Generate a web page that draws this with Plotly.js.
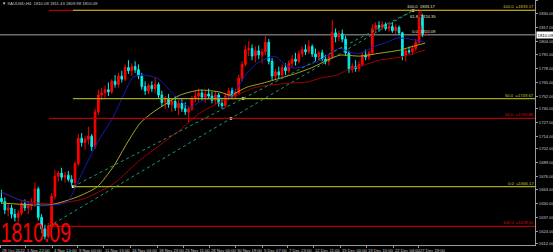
<!DOCTYPE html>
<html><head><meta charset="utf-8">
<script src="https://cdn.plot.ly/plotly-3.0.1.min.js"></script>
<style>html,body{margin:0;padding:0;background:#000;}#chart{width:553px;height:252px;}</style>
</head><body><div id="chart"></div>
<script>
// ---- XAUUSD H4 candles ----
const opens = [1655,1652,1644,1646,1640,1637,1641,1650,1646,1648,
 1650,1664,1637,1626,1619,1629,1657,1676,1679,1675,
 1677,1673,1670,1688,1712,1708,1711,1714,1704,1737,
 1753,1755,1758,1756,1766,1763,1771,1768,1779,1776,
 1780,1777,1771,1761,1757,1762,1759,1763,1753,1746,
 1749,1744,1747,1741,1745,1740,1737,1740,1750,1752,
 1755,1751,1754,1752,1748,1753,1745,1743,1752,1757,
 1752,1755,1769,1782,1796,1797,1790,1795,1791,1794,
 1803,1785,1771,1775,1772,1779,1776,1783,1787,1785,
 1792,1796,1794,1799,1792,1789,1793,1787,1785,1789,
 1812,1808,1811,1806,1793,1777,1780,1778,1782,1791,
 1789,1793,1816,1819,1817,1820,1816,1818,1814,1817,
 1812,1790,1795,1794,1797,1803,1826,1810.08];
const highs = [1663,1656,1650,1649,1645,1644,1652,1654,1652,1655,
 1670,1666,1640,1630,1632,1660,1682,1681,1684,1680,
 1681,1677,1690,1716,1717,1714,1723,1716,1740,1758,
 1760,1762,1765,1768,1772,1774,1776,1782,1786,1783,
 1785,1782,1774,1766,1764,1766,1769,1765,1757,1752,
 1754,1750,1752,1748,1749,1746,1742,1752,1757,1759,
 1758,1757,1759,1756,1756,1755,1749,1755,1760,1760,
 1759,1772,1785,1800,1804,1801,1799,1800,1797,1809,
 1806,1788,1778,1780,1782,1783,1786,1791,1793,1795,
 1799,1801,1805,1801,1797,1795,1796,1791,1792,1824,
 1816,1814,1815,1809,1795,1783,1786,1785,1794,1796,
 1795,1820,1822,1823,1823,1822,1821,1822,1820,1819,
 1813,1797,1799,1800,1806,1833.17,1830,1811.43];
const lows = [1650,1640,1638,1636,1633,1632,1639,1643,1640,1644,
 1647,1634,1622,1616,1617,1627,1654,1671,1672,1670,
 1671,1667,1666.17,1686,1704,1701,1706,1700,1702,1734,
 1748,1750,1752,1754,1760,1760,1765,1766,1773,1771,
 1774,1768,1758,1753,1754,1756,1755,1750,1742,1740,
 1741,1737,1738,1734,1737,1734,1727,1738,1746,1747,
 1748,1746,1749,1745,1744,1742,1740,1741,1748,1749,
 1749,1753,1766,1780,1790,1786,1784,1787,1783,1791,
 1782,1767,1767,1768,1770,1772,1774,1779,1781,1783,
 1789,1791,1792,1789,1785,1786,1785,1782,1781,1787,
 1803,1804,1803,1790,1774,1774,1775,1775,1780,1786,
 1786,1791,1812,1813,1815,1814,1813,1812,1811,1810,
 1786,1785,1792,1791,1795,1801,1808,1809.98];
const closes = [1652,1644,1646,1640,1637,1641,1650,1646,1648,1650,
 1664,1637,1626,1619,1629,1657,1676,1679,1675,1677,
 1673,1670,1688,1712,1708,1711,1714,1704,1737,1753,
 1755,1758,1756,1766,1763,1771,1768,1779,1776,1780,
 1777,1771,1761,1757,1762,1759,1763,1753,1746,1749,
 1744,1747,1741,1745,1740,1737,1740,1750,1752,1755,
 1751,1754,1752,1748,1753,1745,1743,1752,1757,1752,
 1755,1769,1782,1796,1797,1790,1795,1791,1794,1803,
 1785,1771,1775,1772,1779,1776,1783,1787,1785,1792,
 1796,1794,1799,1792,1789,1793,1787,1785,1789,1812,
 1808,1811,1806,1793,1777,1780,1778,1782,1791,1789,
 1793,1816,1819,1817,1820,1816,1818,1814,1817,1812,
 1790,1795,1794,1797,1803,1826,1810.5,1810.09];
const barIndex = opens.map((_, i) => i);

const blueMaIdx = [0,5.5,11.5,19.6,23.5,28.6,33.4,36.4,39.4,42.4,46.6,50.4,53.4,56.4,60.3,64.5,68.4,70.8,73.5,76.5,80.4,82.5,84.3,87.3,91.5,95.4,98.4,101.3,104.3,107.3,111.2,115.4,118.4,121.4,126.8];
const blueMaVal = [1661,1653.5,1648,1651.5,1675,1707.5,1732,1752,1770,1772,1769,1757.5,1748,1741.5,1748,1750,1751,1760.5,1774,1783,1789,1789,1783,1778.5,1781,1786,1792.5,1797.5,1793.5,1792.5,1798.5,1803,1807,1806.5,1803];
const yellowMaIdx = [0,14.5,22.6,28.6,33.4,37.6,41.5,45.4,49.6,53.4,59.4,65.4,68.4,73.5,78.3,83.4,88.5,93.3,97.5,101.3,107.3,113.3,119.3,122.3,126.8];
const yellowMaVal = [1650.6,1648.8,1656.3,1665.8,1684.7,1707.5,1726.4,1736.8,1745.4,1752.9,1757.7,1755.8,1752.9,1760.5,1764.3,1769.0,1773.8,1779.5,1786.1,1790.8,1789.9,1792.7,1795.6,1798.4,1802.2];
const redMaIdx = [0,5.5,14.5,24.4,33.4,41.5,47.5,53.4,59.4,65.4,70.5,75.3,80.4,86.4,91.5,95.4,100.4,103.4,107.3,113.3,119.3,126.8];
const redMaVal = [1661.1,1653.5,1649.7,1654.4,1668.6,1691.4,1705.6,1719.8,1735.9,1746.3,1752.9,1759.6,1762.4,1764.3,1765.3,1769.0,1771.9,1776.6,1780.4,1786.1,1788.9,1795.6];

// ---- fibonacci objects ----
const yellowFibPct = ['100.0','50.0','0.0'];
const yellowFibPrice = [1833.17,1749.67,1666.17];
const yellowFibStart = 21.4;
const redFibPct = ['0.0','50.0','100.0'];
const redFibPrice = [1833.17,1730.85,1628.52];
const redFibStart = 14.2;
const fibEndIdx = 123.2;
const smallFibPct = ['100.0','61.8','0.0'];
const smallFibPrice = [1833.17,1824.35,1810.09];
const smallFibIdx = 125.6;
const smallFibLabelIdx = 130.4;

// ---- axes labels ----
const xTickPos = [-0.3,7.04,15.12,22.6,30.39,38.47,46.56,54.34,62.13,69.91,78.0,85.48,93.26,101.35,109.13,117.22,124.7];
const xTickText = ['28 Oct 2022','1 Nov 22:00','4 Nov 14:00','9 Nov 00:00','11 Nov 15:00','16 Nov 04:00','18 Nov 23:00','23 Nov 11:00','28 Nov 00:00','30 Nov 19:00','5 Dec 07:00','7 Dec 23:00','12 Dec 11:00','15 Dec 00:00','19 Dec 15:00','22 Dec 04:00','27 Dec 19:00'];
const yTickText = ['1843.00','1830.00','1817.00','1804.00','1791.00','1778.00','1765.00','1752.00','1740.00','1727.00','1714.00','1702.00','1689.00','1676.00','1663.00','1650.00','1637.00','1624.00','1612.00'];
const yTickVals = yTickText.map(Number);
const bidPrice = 1810.09;
const header = '\u25BC XAUUSD,H4  1810.08 1811.43 1809.98 1810.09';

const YEL = '#a8a812', RED = '#b00000', GRN = '#1c9c70';
const FAM = 'Liberation Sans, Arial, sans-serif';
const small = {family:FAM, size:4.2, color:'#c8c8c8'};

const traces = [
  {type:'candlestick', x:barIndex, open:opens, high:highs, low:lows, close:closes,
   increasing:{line:{color:'#ff0000',width:1}, fillcolor:'#ff0000'},
   decreasing:{line:{color:'#00f0f0',width:1}, fillcolor:'#00f0f0'},
   whiskerwidth:0, hoverinfo:'skip'},
  {type:'scatter', mode:'lines', x:redMaIdx, y:redMaVal, line:{color:'#a00000',width:1,shape:'spline',smoothing:0.6}, hoverinfo:'skip'},
  {type:'scatter', mode:'lines', x:yellowMaIdx, y:yellowMaVal, line:{color:'#a8a820',width:1,shape:'spline',smoothing:0.6}, hoverinfo:'skip'},
  {type:'scatter', mode:'lines', x:blueMaIdx, y:blueMaVal, line:{color:'#1818b8',width:1,shape:'spline',smoothing:0.6}, hoverinfo:'skip'}
];

const shapes = [];
const annotations = [];
shapes.push({type:'line', xref:'paper', x0:0, x1:1, yref:'y', y0:bidPrice, y1:bidPrice, line:{color:'#6e6e6e',width:1.5}, layer:'below'});
redFibPrice.forEach((p,i)=>{
  shapes.push({type:'line', xref:'x', x0:redFibStart, x1:400, yref:'y', y0:p, y1:p, line:{color:RED,width:1.3}});
  if (redFibPct[i] !== '0.0') annotations.push({xref:'paper', x:1, xanchor:'right', yref:'y', y:p, yanchor:'bottom', text:redFibPct[i]+'  ='+p.toFixed(2), showarrow:false, borderpad:0, font:Object.assign({}, small, {color:'#d01010'})});
});
yellowFibPrice.forEach((p,i)=>{
  shapes.push({type:'line', xref:'x', x0:yellowFibStart, x1:400, yref:'y', y0:p, y1:p, line:{color:YEL,width:1.3}});
  annotations.push({xref:'paper', x:1, xanchor:'right', yref:'y', y:p, yanchor:'bottom', text:yellowFibPct[i]+'  ='+p.toFixed(2), showarrow:false, borderpad:0, font:Object.assign({}, small, {color:'#c8c830'})});
});
const topP = yellowFibPrice[0];
shapes.push({type:'line', xref:'x', yref:'y', x0:yellowFibStart, y0:yellowFibPrice[2], x1:fibEndIdx, y1:topP, line:{color:GRN,width:1,dash:'dot'}});
shapes.push({type:'line', xref:'x', yref:'y', x0:redFibStart, y0:redFibPrice[2], x1:fibEndIdx, y1:topP, line:{color:GRN,width:1,dash:'dot'}});
shapes.push({type:'line', xref:'x', yref:'y', x0:smallFibIdx, x1:smallFibIdx, y0:smallFibPrice[2], y1:smallFibPrice[0], line:{color:'#d00000',width:1,dash:'dash'}});
smallFibPrice.forEach((p,i)=>{
  annotations.push({xref:'x', x:smallFibLabelIdx, xanchor:'right', yref:'y', y:p, yanchor:'bottom', text:smallFibPct[i]+'  '+p.toFixed(2), showarrow:false, borderpad:0, font:Object.assign({}, small, {color:'#e0e0c0'})});
});
const handleX = [yellowFibStart, (yellowFibStart+fibEndIdx)/2, (redFibStart+fibEndIdx)/2, fibEndIdx];
const handleY = [yellowFibPrice[2], yellowFibPrice[1], redFibPrice[1], topP];
traces.push({type:'scatter', mode:'markers', x:handleX, y:handleY, marker:{symbol:'square', size:2.5, color:'#ffffff'}, hoverinfo:'skip'});

// x-axis time labels, left-aligned at their tick like the terminal
xTickText.forEach((t,i)=>{
  annotations.push({xref:'x', x:xTickPos[i], xanchor:'left', xshift:0.5, yref:'paper', y:0, yanchor:'top', yshift:-1.5, text:t, showarrow:false, borderpad:0, font:small});
});

annotations.push({xref:'paper', x:1, xanchor:'left', xshift:1, yref:'y', y:bidPrice, yanchor:'middle', text:bidPrice.toFixed(2), showarrow:false, bgcolor:'#ffffff', borderpad:0.6, font:{family:FAM, size:4.3, color:'#000000'}});
annotations.push({xref:'paper', x:0, xanchor:'left', xshift:1, yref:'paper', y:1, yanchor:'top', yshift:0, text:header, showarrow:false, borderpad:0, font:{family:FAM, size:4.2, color:'#c8c8c8'}});
const bigText = closes[closes.length-1].toFixed(2);
annotations.push({xref:'paper', x:0, xanchor:'left', yref:'paper', y:0, yanchor:'bottom', yshift:-4, text:bigText, showarrow:false, borderpad:0, font:{family:'Liberation Sans, sans-serif', size:27, color:'#ff0000'}});

const layout = {
  width:553, height:252, margin:{l:0,r:18,t:0,b:7},
  paper_bgcolor:'#000000', plot_bgcolor:'#000000', showlegend:false, hovermode:false,
  xaxis:{range:[-0.45,159.7], rangeslider:{visible:false}, showgrid:false, zeroline:false,
    showline:true, linecolor:'#9a9a9a', linewidth:1, ticks:'outside', ticklen:2, tickcolor:'#9a9a9a',
    tickmode:'array', tickvals:xTickPos, showticklabels:false, fixedrange:true},
  yaxis:{side:'right', range:[1610.8,1843.1], showgrid:false, zeroline:false,
    showline:true, linecolor:'#9a9a9a', linewidth:1, ticks:'outside', ticklen:2, tickcolor:'#9a9a9a',
    tickmode:'array', tickvals:yTickVals, ticktext:yTickText, tickfont:small, fixedrange:true},
  shapes:shapes, annotations:annotations
};
Plotly.newPlot('chart', traces, layout, {displayModeBar:false, staticPlot:true}).then(gd => {
  gd.querySelectorAll('.annotation-text').forEach(t => {
    if (t.textContent === bigText && parseFloat(t.style.fontSize) > 20) {
      t.setAttribute('transform', 'scale(0.72,1)');
    }
  });
});
</script>
</body></html>
